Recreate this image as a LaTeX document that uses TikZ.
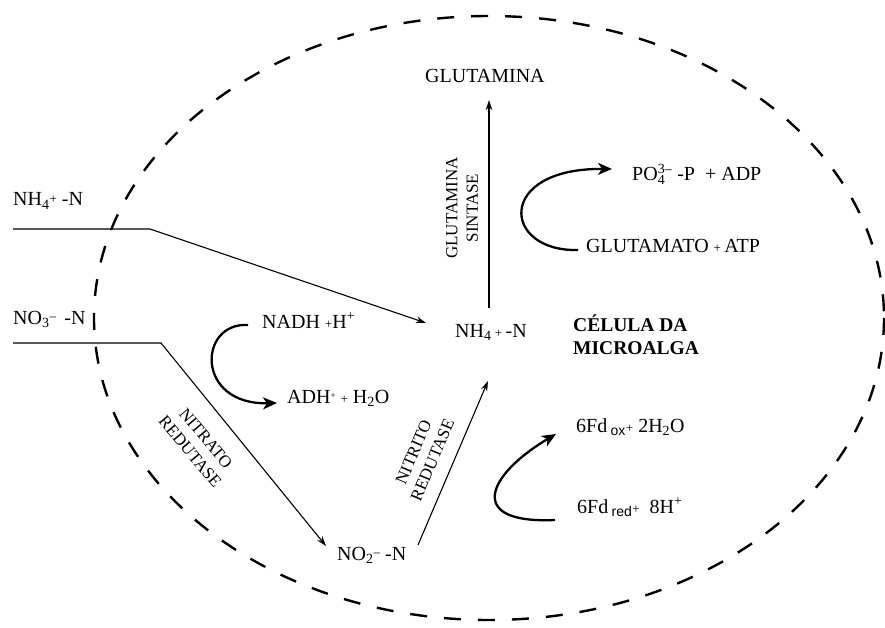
\documentclass[tikz,border=0pt]{standalone}
\usepackage{fontspec}
\setmainfont{Liberation Serif}
\newfontfamily\subsans{Liberation Sans}
\usetikzlibrary{arrows.meta}

% small plus and minus signs used inside formulas
\newcommand\smp{{\fontsize{13}{13}\selectfont+}}
\newcommand\smm{{\fontsize{13}{13}\selectfont--}}

\begin{document}
\begin{tikzpicture}[x=1pt,y=-1pt,
  every node/.style={inner sep=0pt, font=\fontsize{20}{23}\selectfont},
  lbl/.style={anchor=base west},
  title/.style={anchor=base west, font=\fontsize{19.5}{23}\selectfont\bfseries},
  enzyme/.style={align=center, font=\fontsize{17}{20.5}\selectfont},
  flow/.style={line width=1.1pt, line join=miter, -{Stealth[length=10pt,width=6.5pt]}},
  cycle/.style={line width=2.3pt, -{Stealth[length=14pt,width=12pt,inset=4pt]}},
  membrane/.style={line width=2.4pt, dash pattern=on 17pt off 17pt}]
\useasboundingbox (0,0) rectangle (885,628);

% cell membrane
\draw[membrane] (489,318) ellipse [x radius=395, y radius=302];

% labels
\node[lbl] (nh4out) at (13,206) {NH\textsubscript{4}\raisebox{.25ex}{\smp} -N};
\node[lbl] (no3out) at (13,324) {NO\textsubscript{3}\raisebox{.35ex}{\smm}\ \,-N};
\node[lbl] (nadh) at (262,328) {NADH \smp H\textsuperscript{+}};
\node[lbl] (adh) at (287,403) {ADH\raisebox{.5ex}{\fontsize{9}{9}\selectfont+}\ \smp\ H\textsubscript{2}O};
\node[lbl] (nh4in) at (455,337) {NH\textsubscript{4}\,\smp\,-N};
\node[title] (cell1) at (573,331) {CÉLULA DA};
\node[title] (cell2) at (573,354) {MICROALGA};
\node[lbl] (gln) at (425,83) {GLUTAMINA};
\node[lbl] (po4) at (632,181) {PO\rlap{\textsubscript{4}}\textsuperscript{3--}\ -P\ \ + ADP};
\node[lbl] (glu) at (586,252) {GLUTAMATO\ \smp\,ATP};
\node[lbl] (fdox) at (576,432) {6Fd\,\textsubscript{\subsans ox}\smp\ 2H\textsubscript{2}O};
\node[lbl] (fdred) at (577,513) {6Fd\,\textsubscript{\subsans red}\smp\ \ 8H\textsuperscript{+}};
\node[lbl] (no2) at (337,560) {NO\textsubscript{2}\raisebox{.35ex}{\smm}\ -N};

% enzyme names along the reactions
\node[enzyme, rotate=90] (gs) at (462,208) {GLUTAMINA\\SINTASE};
\node[enzyme, rotate=-50] (nr) at (198,445) {NITRATO\\REDUTASE};
\node[enzyme, rotate=67] (nir) at (423,456) {NITRITO\\REDUTASE};

% connector end points
\coordinate (nh4src) at (13,229);
\coordinate (nh4bend) at (150,229);
\coordinate (nh4tip) at (426,323);
\coordinate (no3src) at (13,343);
\coordinate (no3bend) at (161,343);
\coordinate (no2tip) at (326,546);
\coordinate (no2src) at (418,545);
\coordinate (nirtip) at (488,381);
\coordinate (gsbase) at (489,308);
\coordinate (gstip) at (489,100);

% nitrogen flow
\draw[flow] (nh4src) -- (nh4bend) -- (nh4tip);
\draw[flow] (no3src) -- (no3bend) -- (no2tip);
\draw[flow] (no2src) -- (nirtip);
\draw[flow] (gsbase) -- (gstip);

% cofactor cycles
\coordinate (nadhA) at (248,325);
\coordinate (nadhB) at (277,403);
\draw[cycle] (nadhA) .. controls (198,322) and (195,405) .. (nadhB);

\coordinate (gluA) at (578,250);
\coordinate (gluB) at (612,169);
\draw[cycle] (gluA) .. controls (502,252) and (495,168) .. (gluB);

\coordinate (fdA) at (555,520);
\coordinate (fdB) at (556,434);
\draw[cycle] (fdA) .. controls (465,524) and (487,475) .. (fdB);
\end{tikzpicture}
\end{document}
